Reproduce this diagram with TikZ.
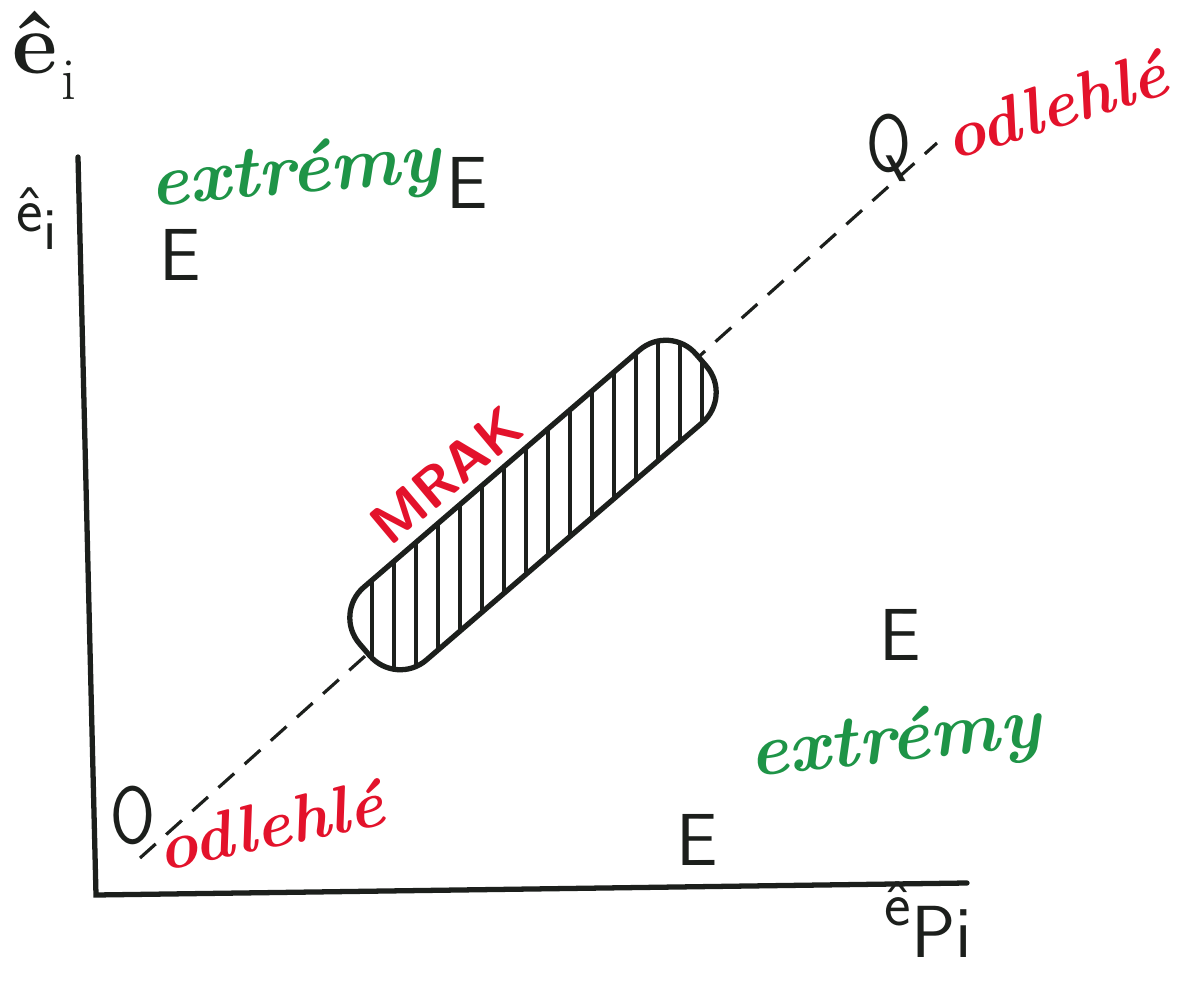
\documentclass[tikz,border=0pt]{standalone}
\usepackage{tikz}
\usetikzlibrary{positioning}
\definecolor{penred}{HTML}{E3122B}
\definecolor{pengreen}{HTML}{1E9447}
\definecolor{ink}{HTML}{1C1F1C}

\begin{document}
\begin{tikzpicture}[
  axis/.style={line width=1.5pt,draw=ink,line cap=round,line join=miter},
  guide/.style={draw=ink,line width=0.9pt,dash pattern=on 6pt off 4pt},
  extmark/.style={text=ink,font=\sffamily\fontsize{21}{21}\selectfont,inner sep=0pt},
  outl/.style={text=ink,font=\sffamily\fontsize{23}{23}\selectfont,inner sep=0pt,xscale=0.8},
  extr/.style={text=pengreen,font=\bfseries\itshape\fontsize{21}{21}\selectfont,inner sep=0pt},
  odle/.style={text=penred,font=\bfseries\itshape\fontsize{19}{19}\selectfont,inner sep=0pt},
  cloudbox/.style={draw=ink,line width=1.5pt,rounded corners=4mm},
  hatch/.style={draw=ink,line width=1.2pt},
  lbl/.style={text=ink,font=\sffamily\fontsize{18}{18}\selectfont,inner sep=0pt}
]
  \useasboundingbox[fill=white] (0,0) rectangle (11.82,9.83);

  % axes
  \coordinate (ytop) at (0.78,8.26);
  \coordinate (orig) at (0.96,0.88);
  \coordinate (xend) at (9.67,1.00);
  \draw[axis] (ytop) -- (orig) -- (xend);

  \node[text=ink,font=\bfseries\fontsize{25}{25}\selectfont,inner sep=0pt,anchor=base west] (title) at (0.12,9.10)
    {ê\kern1pt\raisebox{-0.3em}{\mdseries\fontsize{17}{17}\selectfont i}};
  \node[lbl,anchor=base west] (ylab) at (0.16,7.52) {ê\raisebox{-0.3em}{\fontsize{17}{17}\selectfont i}};
  \node[lbl,anchor=base west] (xlab) at (8.84,0.57) {ê\raisebox{-0.5em}{\fontsize{21}{21}\selectfont Pi}};

  % line of the regression
  \coordinate (d0) at (1.40,1.25);
  \coordinate (d1) at (9.37,8.40);
  \draw[guide] (d0) -- (d1);

  % the cloud
  \coordinate (mrakc) at (5.33,4.78);
  \fill[white,shift={(mrakc)},rotate=40.7,rounded corners=4mm] (-2.22,-0.48) rectangle (2.22,0.48);
  \begin{scope}
    \clip[shift={(mrakc)},rotate=40.7,rounded corners=4mm] (-2.22,-0.48) rectangle (2.22,0.48);
    \foreach \x in {3.72,3.94,...,7.2}
      \draw[hatch] (\x,2.8) -- (\x,6.8);
  \end{scope}
  \draw[cloudbox,shift={(mrakc)},rotate=40.7] (-2.22,-0.48) rectangle (2.22,0.48);
  \node[text=penred,font=\sffamily\bfseries\fontsize{16}{16}\selectfont,rotate=40,inner sep=0pt] (mrak) at (4.46,5.08) {MRAK};

  % outliers
  \node[outl] (qhigh) at (8.89,8.35) {Q};
  \node[outl] (qlow) at (1.33,1.68) {O};
  \node[odle,rotate=17] (odhigh) at (10.55,8.78) {odlehlé};
  \node[odle,rotate=12] (odlow) at (2.70,1.58) {odlehlé};

  % extremes
  \node[extmark] (e1) at (4.67,8.00) {E};
  \node[extmark] (e2) at (1.80,7.28) {E};
  \node[extmark] (e3) at (9.00,3.48) {E};
  \node[extmark] (e4) at (6.97,1.43) {E};
  \node[extr,rotate=5] (exhigh) at (2.95,8.08) {extrémy};
  \node[extr,rotate=6] (exlow) at (8.95,2.40) {extrémy};
\end{tikzpicture}
\end{document}
